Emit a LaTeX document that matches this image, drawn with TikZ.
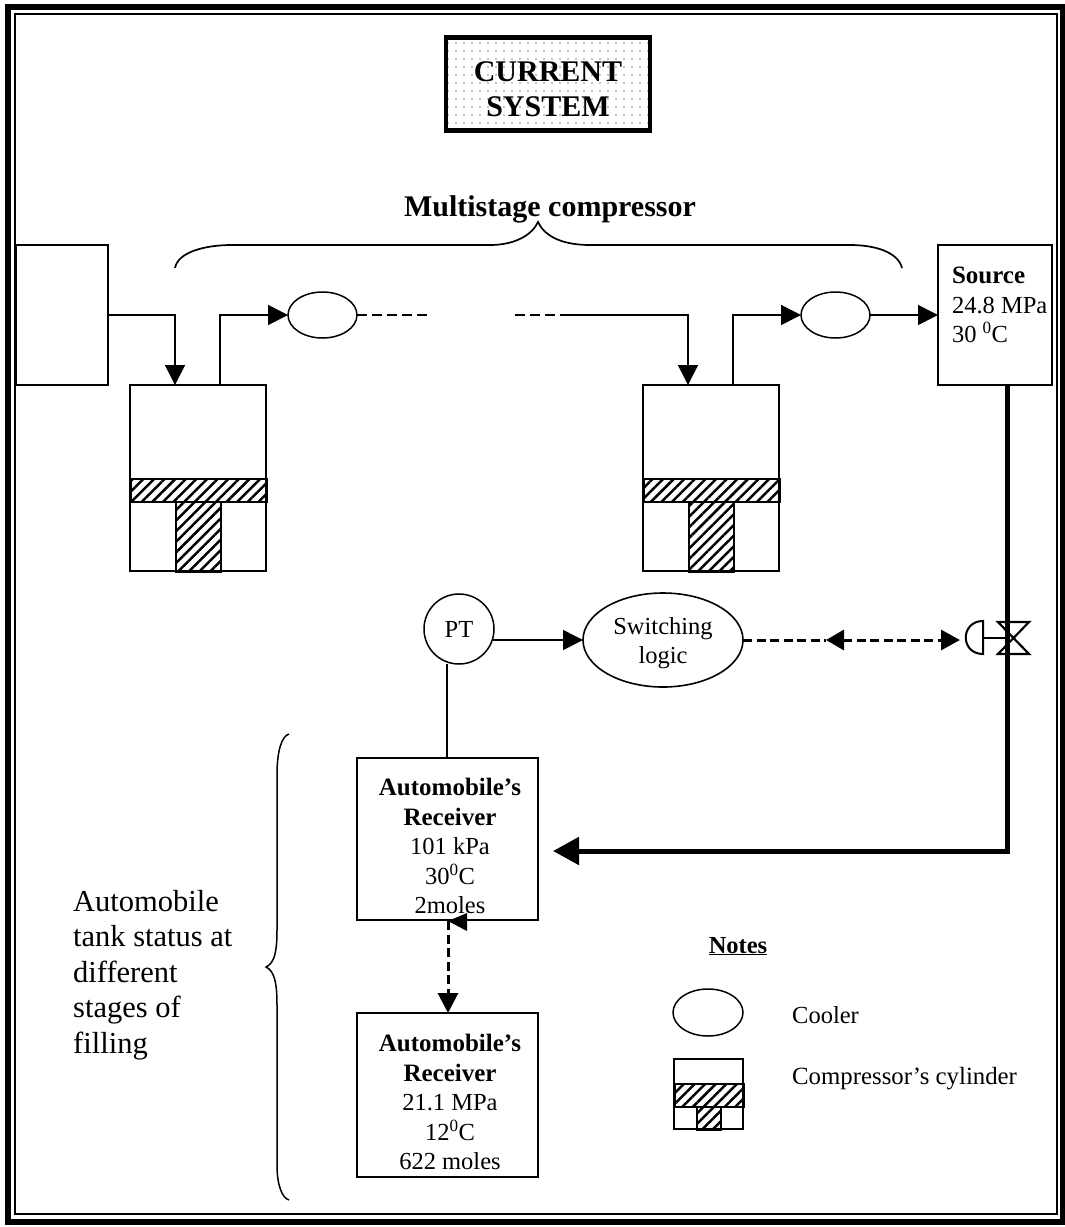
\documentclass[tikz,border=0pt]{standalone}
\usepackage{fontspec}
\setmainfont{Liberation Serif}
\usetikzlibrary{arrows.meta,shapes.geometric,patterns.meta}
\tikzset{
  thinln/.style={line width=1.6pt},
  boxn/.style={draw,line width=1.7pt,inner sep=0pt,outer sep=0pt,minimum width=#1},
  cooler/.style={draw,ellipse,line width=1.5pt,inner sep=0pt,outer sep=0pt,minimum width=69pt,minimum height=46pt},
  hatchfill/.style={draw,line width=1.7pt,pattern={Lines[angle=45,distance=7.5pt,line width=2.5pt]}},
  bodytext/.style={inner sep=0pt,outer sep=0pt,align=center,font=\fontsize{24.5}{29.5}\selectfont},
  arr/.style={-{Triangle[length=20pt,width=20pt]},line width=1.6pt},
  flowdash/.style={line width=1.4pt,dash pattern=on 10pt off 5pt},
  signaldash/.style={line width=3pt,dash pattern=on 9pt off 4.5pt},
  fillpipe/.style={line width=5pt},
}
\begin{document}
\begin{tikzpicture}[x=1pt,y=-1pt]
\useasboundingbox (0,0) rectangle (1065,1227);
% frame
\draw[line width=6.5pt] (8,7) rectangle (1063,1222);
\draw[line width=2.5pt] (15,14) rectangle (1057,1214);
% title
\node[draw,line width=4.5pt,pattern={Dots[distance=8pt,radius=0.6pt]},minimum width=204pt,minimum height=93pt,inner sep=0pt] (title) at (548,84) {};
\node[inner sep=0pt,align=center,font=\fontsize{30}{35}\bfseries\selectfont] (titletext) at (548,89) {CURRENT\\SYSTEM};
% compressor label and brace
\node[inner sep=0pt,font=\fontsize{30}{32}\bfseries\selectfont,anchor=base] (mslabel) at (550,216) {Multistage compressor};
\draw[line width=1.7pt] (175,268) .. controls (178,252) and (205,245) .. (232,245) -- (490,245) .. controls (515,245) and (532,235) .. (538,222) .. controls (544,235) and (560,245) .. (590,245) -- (850,245) .. controls (875,245) and (898,252) .. (902,268);
% left box
\node[boxn=92pt,minimum height=140pt,anchor=north west] (intake) at (16,245) {};
% cylinder 1
\node[boxn=136pt,minimum height=186pt,anchor=north west] (cylA) at (130,385) {};
\node[hatchfill,inner sep=0pt,minimum width=136pt,minimum height=23pt,anchor=north west] (pistonA) at (130,478) {};
\node[hatchfill,inner sep=0pt,minimum width=45pt,minimum height=70pt,anchor=north west] (rodA) at (175,501) {};
% cylinder 2
\node[boxn=136pt,minimum height=186pt,anchor=north west] (cylB) at (643,385) {};
\node[hatchfill,inner sep=0pt,minimum width=136pt,minimum height=23pt,anchor=north west] (pistonB) at (643,478) {};
\node[hatchfill,inner sep=0pt,minimum width=45pt,minimum height=70pt,anchor=north west] (rodB) at (688,501) {};
% coolers
\node[cooler] (coolA) at (322.5,315) {};
\node[cooler] (coolB) at (835.5,315) {};
% source
\node[boxn=114pt,minimum height=140pt,anchor=north west] (source) at (938,245) {};
\node[bodytext,align=left,anchor=west] (sourcetext) at (952,305) {{\fontsize{25}{29.5}\bfseries\selectfont Source}\\24.8 MPa\\30 \textsuperscript{0}C};
% flow connectors
\coordinate (inA) at (175,385);
\coordinate (outA) at (220,385);
\coordinate (inB) at (688,385);
\coordinate (outB) at (733,385);
\coordinate (dashAend) at (427,315);
\coordinate (dashBstart) at (515,315);
\coordinate (dashBend) at (565,315);
\draw[arr] (intake.east |- 0,315) -| (inA);
\draw[arr] (outA) |- (coolA.west);
\draw[flowdash] (coolA.east) -- (dashAend);
\draw[flowdash] (dashBstart) -- (dashBend);
\draw[arr] (dashBend) -| (inB);
\draw[arr] (outB) |- (coolB.west);
\draw[arr] (coolB.east) -- (source.west |- coolB.east);
% PT and logic
\node[draw,circle,line width=1.5pt,minimum size=70pt,inner sep=0pt,outer sep=0pt,font=\fontsize{24.5}{29}\selectfont] (pt) at (459,629) {PT};
\node[draw,ellipse,line width=1.6pt,minimum width=160pt,minimum height=94pt,inner sep=0pt,outer sep=0pt] (logic) at (663,640) {};
\node[bodytext] (logictext) at (663,643) {Switching\\logic};
\coordinate (ptout) at (493,640);
\draw[arr] (ptout) -- (logic.west);
% receivers
\node[boxn=181pt,minimum height=162pt,anchor=north west] (recA) at (357,758) {};
\node[bodytext] (recAtext) at (450,846) {{\fontsize{25}{29.5}\bfseries\selectfont Automobile’s}\\{\fontsize{25}{29.5}\bfseries\selectfont Receiver}\\101 kPa\\30\textsuperscript{0}C\\2moles};
\node[boxn=181pt,minimum height=164pt,anchor=north west] (recB) at (357,1013) {};
\node[bodytext] (recBtext) at (450,1102) {{\fontsize{25}{29.5}\bfseries\selectfont Automobile’s}\\{\fontsize{25}{29.5}\bfseries\selectfont Receiver}\\21.1 MPa\\12\textsuperscript{0}C\\622 moles};
\coordinate (ptdown) at (447,664);
\coordinate (recAtop) at (447,758);
\draw[thinln] (ptdown) -- (recAtop);
\coordinate (recAbot) at (448,921);
\coordinate (recBtop) at (448,1013);
\draw[signaldash,-{Triangle[length=20pt,width=20pt]}] (recAbot) -- (recBtop);
\fill (recAbot) -- (467,913) -- (467,931) -- cycle;
% valve and signal
\coordinate (pipeA) at (1007,385);
\coordinate (pipeB) at (553,851);
\draw[fillpipe,-{Triangle[length=26pt,width=27pt]}] (pipeA) |- (pipeB);
\coordinate (sigmid) at (826,640);
\coordinate (sigend) at (960,640);
\draw[signaldash] (logic.east) -- (sigmid);
\draw[signaldash,{Triangle[length=18pt,width=20pt]}-{Triangle[length=19pt,width=20pt]}] (sigmid) -- (sigend);
\draw[line width=2pt] (983,638) -- (1007,638);
\draw[line width=2pt] (983,621) .. controls (960,621) and (960,654) .. (983,654) -- cycle;
\draw[line width=2.2pt] (998,622) -- (1029,622) -- (998,654) -- (1029,654) -- cycle;
% left brace and text
\draw[line width=1.5pt] (289,734) .. controls (282,736) and (277,750) .. (277,775) -- (277,930) .. controls (277,950) and (275,963) .. (266,967) .. controls (275,971) and (277,985) .. (277,1005) -- (277,1165) .. controls (277,1185) and (282,1198) .. (289,1200);
\node[inner sep=0pt,align=left,anchor=west,font=\fontsize{30.5}{35.5}\selectfont] (statustext) at (73,975) {Automobile\\tank status at\\different\\stages of\\filling};
% notes
\node[inner sep=0pt,anchor=base,font=\fontsize{24.5}{29}\bfseries\selectfont] (notes) at (738,953) {\underline{Notes}};
\node[cooler,minimum width=70pt,minimum height=47pt] (legcool) at (708,1012.5) {};
\node[inner sep=0pt,anchor=base west,font=\fontsize{24.5}{29}\selectfont] (legcooltext) at (792,1023) {Cooler};
\node[boxn=69pt,minimum height=70pt,anchor=north west] (legcyl) at (674,1059) {};
\node[hatchfill,inner sep=0pt,minimum width=69pt,minimum height=23pt,anchor=north west] (legpiston) at (674,1083) {};
\node[hatchfill,inner sep=0pt,minimum width=24pt,minimum height=23pt,anchor=north west] (legrod) at (696,1106) {};
\node[inner sep=0pt,anchor=base west,font=\fontsize{24.8}{29}\selectfont] (legcyltext) at (792,1084) {Compressor’s cylinder};
\end{tikzpicture}
\end{document}
